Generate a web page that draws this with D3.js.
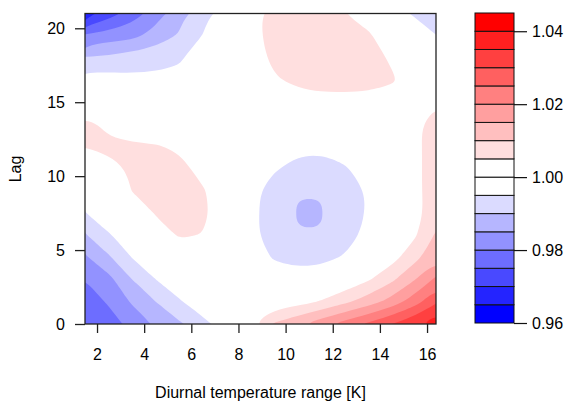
<!DOCTYPE html>
<html>
<head>
<meta charset="utf-8">
<script src="https://d3js.org/d3.v7.min.js"></script>
<style>
  body { margin: 0; background: #fff; }
  svg text { font-family: "Liberation Sans", Arial, sans-serif; fill: #000; }
</style>
</head>
<body>
<svg id="chart" width="567" height="403"></svg>
<script>
// grid: columns = DTR, rows = lag
var dtrValues = [1.5, 2.5, 3.5, 4.5, 5.5, 6.5, 7.5, 8.5, 9.5, 10.5, 11.5, 12.5, 13.5, 14.5, 15.5, 16.5];
var lagValues = [0, 1.5, 3, 4.5, 6, 7.5, 9, 10.5, 12, 13.5, 15, 16.5, 18, 19.5, 21];
var rrGrid = [
	[0.976, 0.978, 0.9815, 0.9857, 0.9893, 0.9935, 0.998, 1.0045, 1.0105, 1.014, 1.018, 1.022, 1.026, 1.030, 1.034, 1.039],
	[0.978, 0.9805, 0.9857, 0.990, 0.9945, 0.998, 1.000, 1.001, 1.002, 1.003, 1.0055, 1.009, 1.0125, 1.017, 1.023, 1.030],
	[0.980, 0.9835, 0.990, 0.995, 0.998, 1.000, 1.0005, 1.000, 0.998, 0.997, 0.998, 1.001, 1.0045, 1.009, 1.015, 1.022],
	[0.9843, 0.9893, 0.9952, 0.9985, 1.001, 1.002, 1.001, 0.998, 0.9945, 0.9935, 0.9935, 0.9955, 0.999, 1.003, 1.0085, 1.0145],
	[0.9895, 0.9945, 0.998, 1.002, 1.0056, 1.0048, 1.002, 0.9962, 0.993, 0.9901, 0.9901, 0.9925, 0.9965, 1.001, 1.0045, 1.0115],
	[0.9948, 0.9985, 1.0005, 1.0055, 1.0075, 1.006, 1.002, 0.9965, 0.9925, 0.9898, 0.9898, 0.992, 0.9955, 1.0005, 1.0035, 1.008],
	[0.9985, 1.0005, 1.0052, 1.007, 1.0078, 1.0055, 1.0015, 0.9965, 0.993, 0.9901, 0.9901, 0.992, 0.9955, 1.001, 1.004, 1.0075],
	[1.002, 1.0038, 1.0055, 1.0068, 1.0068, 1.003, 1.000, 0.998, 0.9955, 0.9935, 0.9935, 0.9945, 0.997, 1.001, 1.004, 1.0075],
	[1.0051, 1.0058, 1.0058, 1.0055, 1.004, 1.001, 0.9995, 0.999, 0.998, 0.9962, 0.9958, 0.997, 0.999, 1.001, 1.004, 1.0075],
	[1.0062, 1.004, 1.002, 1.001, 1.0005, 1.000, 1.000, 1.000, 1.000, 0.9995, 0.9995, 1.000, 1.001, 1.002, 1.0042, 1.0072],
	[1.001, 0.9995, 0.9995, 0.9995, 0.999, 0.9995, 1.000, 1.001, 1.002, 1.003, 1.0035, 1.0035, 1.0035, 1.003, 1.003, 1.0048],
	[0.9975, 0.997, 0.9962, 0.996, 0.996, 0.999, 1.0005, 1.002, 1.0045, 1.006, 1.0068, 1.0068, 1.0065, 1.0055, 1.003, 1.001],
	[0.9905, 0.991, 0.9925, 0.9935, 0.9945, 0.9975, 1.000, 1.003, 1.0058, 1.0072, 1.0078, 1.0075, 1.0065, 1.0045, 1.001, 0.998],
	[0.9807, 0.9825, 0.9835, 0.987, 0.9905, 0.9952, 0.9985, 1.0038, 1.0062, 1.0075, 1.0075, 1.0068, 1.006, 1.001, 0.998, 0.9948],
	[0.9673, 0.9725, 0.9775, 0.9828, 0.9884, 0.9935, 0.998, 1.0038, 1.0062, 1.007, 1.0065, 1.005, 1.002, 0.998, 0.9942, 0.9915]
];
var levels = [0.96, 0.965, 0.97, 0.975, 0.98, 0.985, 0.99, 0.995, 1.0, 1.005, 1.01, 1.015, 1.02, 1.025, 1.03, 1.035, 1.04, 1.045];
var refValue = 1;
var xTicks = [2, 4, 6, 8, 10, 12, 14, 16];
var yTicks = [0, 5, 10, 15, 20];
var keyTicks = [0.96, 0.98, 1.00, 1.02, 1.04];
var xTitle = 'Diurnal temperature range [K]';
var yTitle = 'Lag';

(function() {

	var PLOT = {left: 85, top: 13.5, right: 436, bottom: 324};
	var KEY = {left: 475, right: 514, top: 13, bottom: 323};
	var FONT = 16;

	var svg = d3.select('#chart');

	var x = d3.scaleLinear().domain([1.49, 16.38]).range([PLOT.left, PLOT.right]);
	var y = d3.scaleLinear().domain([0, 21]).range([PLOT.bottom, PLOT.top]);
	var keyY = d3.scaleLinear().domain([levels[0], levels[levels.length - 1]]).range([KEY.bottom, KEY.top]);

	// blue -> white below the reference, white -> red above (like dlnm)
	var nBelow = levels.filter(function(l) { return l < refValue; }).length;
	var nAbove = levels.filter(function(l) { return l > refValue; }).length;
	var colors = d3.quantize(d3.interpolateRgb('blue', 'white'), nBelow)
		.concat(d3.quantize(d3.interpolateRgb('white', 'red'), nAbove));

	var nx = dtrValues.length, ny = lagValues.length;
	var flat = [];
	rrGrid.forEach(function(row) { row.forEach(function(v) { flat.push(v); }); });

	var bands = d3.contours().size([nx, ny]).thresholds(levels.slice(0, -1))(flat);

	// grid cell centres sit at i + 0.5 in contour space
	var gx = d3.scaleLinear().domain([0.5, nx - 0.5]).range([x(dtrValues[0]), x(dtrValues[nx - 1])]);
	var gy = d3.scaleLinear().domain([0.5, ny - 0.5]).range([y(lagValues[0]), y(lagValues[ny - 1])]);

	// rings drawn as closed curves so the bands look less angular
	var ringLine = d3.line().curve(d3.curveBasisClosed);
	function bandPath(band) {
		var d = '';
		band.coordinates.forEach(function(polygon) {
			polygon.forEach(function(ring) {
				var pts = ring.map(function(p) { return [gx(p[0]), gy(p[1])]; });
				var first = pts[0], last = pts[pts.length - 1];
				if (first[0] === last[0] && first[1] === last[1]) pts = pts.slice(0, -1);
				if (pts.length > 2) d += ringLine(pts);
			});
		});
		return d;
	}

	svg.append('clipPath').attr('id', 'plot-clip')
		.append('rect')
		.attr('x', PLOT.left).attr('y', PLOT.top)
		.attr('width', PLOT.right - PLOT.left).attr('height', PLOT.bottom - PLOT.top);

	svg.append('g').attr('clip-path', 'url(#plot-clip)')
		.selectAll('path')
		.data(bands)
		.enter().append('path')
		.attr('d', bandPath)
		.attr('fill', function(d, i) { return colors[i]; });

	// frame
	svg.append('rect')
		.attr('x', PLOT.left).attr('y', PLOT.top)
		.attr('width', PLOT.right - PLOT.left).attr('height', PLOT.bottom - PLOT.top)
		.attr('fill', 'none').attr('stroke', '#222').attr('stroke-width', 1.3);

	var xAxis = svg.append('g')
		.attr('transform', 'translate(0,' + PLOT.bottom + ')')
		.call(d3.axisBottom(x).tickValues(xTicks).tickSize(9).tickPadding(16));
	var yAxis = svg.append('g')
		.attr('transform', 'translate(' + PLOT.left + ',0)')
		.call(d3.axisLeft(y).tickValues(yTicks).tickSize(10).tickPadding(10));
	[xAxis, yAxis].forEach(function(g) {
		g.select('.domain').remove();
		g.selectAll('line').attr('stroke', '#222').attr('stroke-width', 1.3);
		g.selectAll('text').attr('font-size', FONT).attr('font-family', null).attr('fill', '#000');
	});

	// colour key
	var key = svg.append('g');
	key.selectAll('rect')
		.data(colors)
		.enter().append('rect')
		.attr('x', KEY.left)
		.attr('width', KEY.right - KEY.left)
		.attr('y', function(d, i) { return keyY(levels[i + 1]); })
		.attr('height', function(d, i) { return keyY(levels[i]) - keyY(levels[i + 1]); })
		.attr('fill', function(d) { return d; })
		.attr('stroke', '#111').attr('stroke-width', 1);

	var keyAxis = svg.append('g')
		.attr('transform', 'translate(' + KEY.right + ',0)')
		.call(d3.axisRight(keyY).tickValues(keyTicks).tickFormat(d3.format('.2f')).tickSize(13).tickPadding(5));
	keyAxis.select('.domain').remove();
	keyAxis.selectAll('line').attr('stroke', '#111').attr('stroke-width', 1.2);
	keyAxis.selectAll('text').attr('font-size', FONT).attr('font-family', null).attr('fill', '#000');

	svg.append('text')
		.attr('x', (PLOT.left + PLOT.right) / 2)
		.attr('y', 398)
		.attr('text-anchor', 'middle')
		.attr('font-size', FONT)
		.text(xTitle);

	svg.append('text')
		.attr('transform', 'translate(21,169) rotate(-90)')
		.attr('text-anchor', 'middle')
		.attr('font-size', FONT)
		.text(yTitle);
}());
</script>
</body>
</html>
